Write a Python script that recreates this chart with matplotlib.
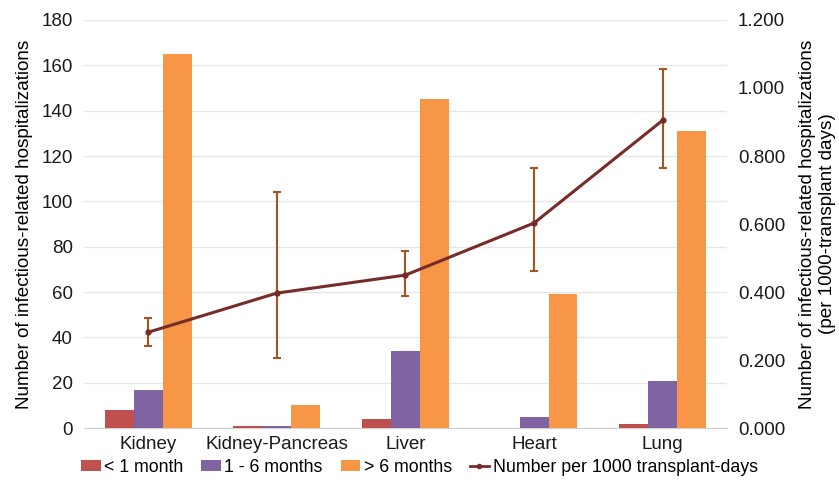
import numpy as np
import matplotlib.pyplot as plt
from matplotlib.lines import Line2D

organs = ['Kidney', 'Kidney-Pancreas', 'Liver', 'Heart', 'Lung']
lt_1_month = [8, 1, 4, 0, 2]
m1_to_6 = [17, 1, 34, 5, 21]
gt_6_months = [165, 10, 145, 59, 131]
rate_per_1000 = [0.282, 0.397, 0.450, 0.603, 0.905]
rate_low = [0.241, 0.206, 0.388, 0.462, 0.765]
rate_high = [0.324, 0.694, 0.520, 0.765, 1.056]

plt.rcParams['font.family'] = ['Liberation Sans', 'DejaVu Sans']

fig = plt.figure(figsize=(8.39, 4.86), dpi=100)
ax = fig.add_axes([0.1, 0.119, 0.7665, 0.84])
ax2 = ax.twinx()

x = np.arange(len(organs))
w = 0.225
ax.bar(x - w, lt_1_month, w, color='#C0504D', label='< 1 month', zorder=3)
ax.bar(x, m1_to_6, w, color='#8064A2', label='1 - 6 months', zorder=3)
ax.bar(x + w, gt_6_months, w, color='#F79646', label='> 6 months', zorder=3)

ax.set_ylim(0, 180)
ax.set_yticks(range(0, 181, 20))
ax.set_xlim(-0.5, 4.5)
ax.set_xticks(x)
ax.set_xticklabels(organs)
ax.yaxis.grid(True, color='#E6E6E6', lw=1)
ax.set_axisbelow(True)
for s in ['top', 'left', 'right']:
    ax.spines[s].set_visible(False)
ax.spines['bottom'].set_color('#D0D0D0')
ax.tick_params(axis='x', length=0, labelsize=13.5, colors='#1a1a1a', pad=6)
ax.tick_params(axis='y', length=0, labelsize=13.5, colors='#1a1a1a', pad=8)
ax.set_ylabel('Number of infectious-related hospitalizations', fontsize=13.6, labelpad=6)

rate = np.array(rate_per_1000)
yerr = [rate - np.array(rate_low), np.array(rate_high) - rate]
ax2.errorbar(x, rate, yerr=yerr, fmt='none', ecolor='#A5531F', elinewidth=1.5,
             capsize=3, capthick=1.5, zorder=4)
ax2.plot(x, rate, color='#772C2A', lw=2.2, marker='o', ms=3.5, zorder=5)
ax2.set_ylim(0, 1.2)
ax2.set_yticks(np.arange(0, 1.21, 0.2))
ax2.set_yticklabels(['%.3f' % v for v in np.arange(0, 1.21, 0.2)])
for s in ['top', 'left', 'right', 'bottom']:
    ax2.spines[s].set_visible(False)
ax2.tick_params(length=0, labelsize=13.5, colors='#1a1a1a', pad=8)
ax2.set_ylabel('Number of infectious-related hospitalizations\n(per 1000-transplant days)',
               fontsize=13.6, labelpad=10)

handles, labels = ax.get_legend_handles_labels()
handles.append(Line2D([0], [0], color='#772C2A', lw=2, marker='o', ms=3))
labels.append('Number per 1000 transplant-days')
fig.legend(handles, labels, loc='lower center', bbox_to_anchor=(0.5, -0.012), ncol=4,
           frameon=False, fontsize=12.8, handlelength=1.1, handleheight=0.6,
           handletextpad=0.2, columnspacing=1.0)

fig.savefig('out.png', dpi=100)
